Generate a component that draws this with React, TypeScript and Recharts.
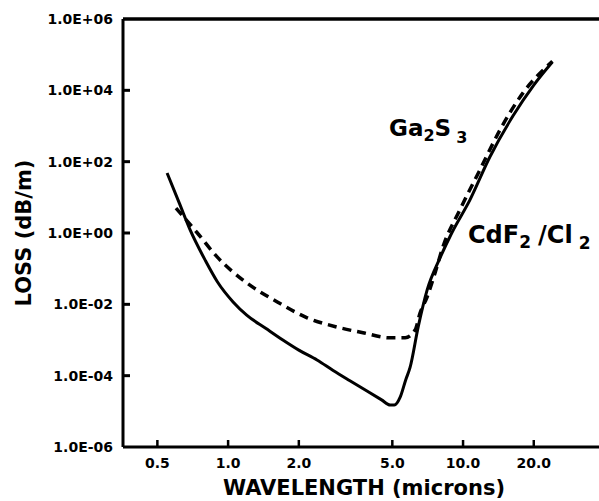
import { LineChart, Line, XAxis, YAxis, ReferenceLine } from 'recharts'

// CdF2/Cl2 fibre (solid)
const cdfWavelength = [0.55, 0.62, 0.69, 0.8, 0.9, 1.05, 1.2, 1.45, 1.71, 2.0, 2.39, 2.8, 3.3, 3.9, 4.5, 4.9, 5.1, 5.4, 5.7, 5.95, 6.44, 7.03, 7.98, 8.95, 10.7, 13.0, 16.3, 20.0, 24.0]
const cdfLoss = [48, 6.9, 1.2, 0.17, 0.043, 0.0117, 5e-3, 2.1e-3, 1e-3, 5.2e-4, 2.75e-4, 1.4e-4, 7.2e-5, 3.7e-5, 2.1e-5, 1.5e-5, 1.5e-5, 2.5e-5, 7.6e-5, 1.7e-4, 2.3e-3, 0.025, 0.2, 1.0, 8.5, 135, 1900, 1.4e4, 6.2e4]

// Ga2S3 glass (dashed)
const gasWavelength = [0.6, 0.74, 0.9, 1.2, 1.62, 2.17, 2.91, 3.75, 4.89, 5.67, 6.25, 6.56, 7.03, 7.6, 8.2, 9.7, 11.8, 14.4, 18.0, 24.0]
const gasLoss = [5, 1.0, 0.21, 0.04, 0.0117, 4.2e-3, 2.3e-3, 1.6e-3, 1.15e-3, 1.15e-3, 1.9e-3, 5.7e-3, 0.016, 0.076, 0.4, 4.5, 59, 800, 8500, 6.5e4]

const wavelengthTicks = [0.5, 1, 2, 5, 10, 20]
const lossTicks = [1e-6, 1e-4, 1e-2, 1, 1e2, 1e4, 1e6]
const lossTickLabels = ['1.0E-06', '1.0E-04', '1.0E-02', '1.0E+00', '1.0E+02', '1.0E+04', '1.0E+06']

const cdfData = cdfWavelength.map((w, i) => ({ wavelength: w, loss: cdfLoss[i] }))
const gasData = gasWavelength.map((w, i) => ({ wavelength: w, loss: gasLoss[i] }))

const FONT = '"DejaVu Sans", sans-serif'

function XTick({ x, y, payload }: any) {
  return (
    <g>
      <line x1={x} x2={x} y1={y} y2={y - 7} stroke="#000" strokeWidth={2.5} />
      <text x={x} y={y + 21} textAnchor="middle" fontSize={14} fontWeight="bold" fontFamily={FONT} fill="#000">
        {Number(payload.value).toFixed(1)}
      </text>
    </g>
  )
}

function YTick({ x, y, payload }: any) {
  const idx = lossTicks.indexOf(payload.value)
  return (
    <g>
      {payload.value !== 1e-6 && payload.value !== 1e6 && (
        <line x1={x} x2={x + 7} y1={y} y2={y} stroke="#000" strokeWidth={3} />
      )}
      <text x={x - 10} y={y + 5} textAnchor="end" fontSize={14} fontWeight="bold" fontFamily={FONT} fill="#000">
        {lossTickLabels[idx]}
      </text>
    </g>
  )
}

export default function App() {
  return (
    <div style={{ position: 'absolute', left: 0, top: 0, width: 599, height: 501, background: '#fff' }}>
      <LineChart width={599} height={501} margin={{ top: 19, right: 0, bottom: 0, left: 0 }}>
        <XAxis
          dataKey="wavelength"
          type="number"
          scale="log"
          domain={[0.357, 37.9]}
          allowDataOverflow
          ticks={wavelengthTicks}
          interval={0}
          height={54}
          tickSize={0}
          tickMargin={0}
          tickLine={false}
          axisLine={{ stroke: '#000', strokeWidth: 3 }}
          tick={<XTick />}
        />
        <YAxis
          dataKey="loss"
          type="number"
          scale="log"
          domain={[1e-6, 1e6]}
          allowDataOverflow
          ticks={lossTicks}
          interval={0}
          width={123}
          tickSize={0}
          tickMargin={0}
          tickLine={false}
          axisLine={{ stroke: '#000', strokeWidth: 3 }}
          tick={<YTick />}
        />
        <ReferenceLine y={1e6} stroke="#000" strokeWidth={3.5} />
        <Line
          data={gasData}
          dataKey="loss"
          type="monotone"
          stroke="#000"
          strokeWidth={3.5}
          strokeDasharray="9 6"
          dot={false}
          isAnimationActive={false}
        />
        <Line
          data={cdfData}
          dataKey="loss"
          type="monotone"
          stroke="#000"
          strokeWidth={3}
          dot={false}
          isAnimationActive={false}
        />
      </LineChart>
      <svg width={599} height={501} style={{ position: 'absolute', left: 0, top: 0, pointerEvents: 'none' }}
        fontFamily={FONT} fontWeight="bold" fill="#000">
        <text transform="rotate(-90)" x={-233} y={31} textAnchor="middle" fontSize={21}>LOSS (dB/m)</text>
        <text x={364} y={495} textAnchor="middle" fontSize={21}>WAVELENGTH (microns)</text>
        <text x={389} y={136} fontSize={23}>
          Ga<tspan fontSize={16} dy={5}>2</tspan><tspan dy={-5}>S</tspan><tspan fontSize={16} dx={5} dy={7}>3</tspan>
        </text>
        <text x={468} y={243} fontSize={24}>
          CdF<tspan fontSize={17} dy={5}>2</tspan><tspan dx={7} dy={-5}>/Cl</tspan><tspan fontSize={17} dx={6} dy={6}>2</tspan>
        </text>
      </svg>
    </div>
  )
}
